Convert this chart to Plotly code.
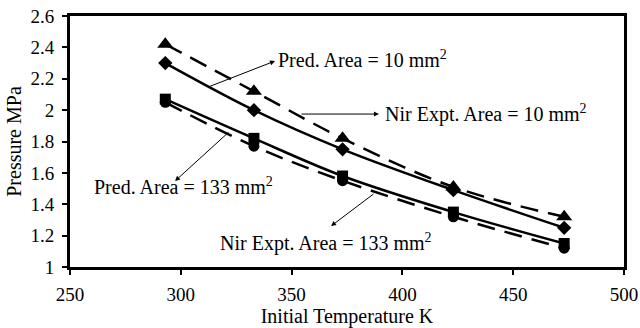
import plotly.graph_objects as go

temps = [293, 333, 373, 423, 473]
nir_10 = [2.42, 2.12, 1.82, 1.51, 1.32]
pred_10 = [2.30, 2.00, 1.75, 1.49, 1.25]
pred_133 = [2.07, 1.82, 1.58, 1.35, 1.15]
nir_133 = [2.05, 1.77, 1.55, 1.32, 1.12]

x_ticks = [250, 300, 350, 400, 450, 500]
y_ticks = [1, 1.2, 1.4, 1.6, 1.8, 2, 2.2, 2.4, 2.6]

FONT = "Liberation Serif"

fig = go.Figure()

def add(y, symbol, size, dash):
    fig.add_trace(go.Scatter(
        x=temps, y=y, mode="lines+markers",
        line=dict(color="black", width=2.5, dash=dash, shape="spline"),
        marker=dict(symbol=symbol, size=size, color="black"),
        showlegend=False, cliponaxis=False))

add(nir_10, "triangle-up", 14, "18px,10px")
add(pred_10, "diamond", 11, "solid")
add(pred_133, "square", 11, "solid")
add(nir_133, "circle", 11, "18px,10px")

arrows = [
    # (head x, head y, tail x, tail y)
    (342.5, 2.313, 312.3, 2.147),
    (389.4, 1.975, 353.8, 1.975),
    (297.4, 1.548, 322.2, 1.867),
    (367.8, 1.261, 387.6, 1.472),
]
for hx, hy, tx, ty in arrows:
    fig.add_annotation(x=hx, y=hy, ax=tx, ay=ty, xref="x", yref="y",
                       axref="x", ayref="y", text="", showarrow=True,
                       arrowhead=2, arrowsize=1, arrowwidth=1, arrowcolor="black")

labels = [
    ("Pred. Area = 10 mm<sup>2</sup>", 343.0, 2.326),
    ("Nir Expt. Area = 10 mm<sup>2</sup>", 391.2, 1.98),
    ("Pred. Area = 133 mm<sup>2</sup>", 260.0, 1.516),
    ("Nir Expt. Area = 133 mm<sup>2</sup>", 316.8, 1.159),
]
for t, x, y in labels:
    fig.add_annotation(x=x, y=y, xref="x", yref="y", text=t, showarrow=False,
                       xanchor="left", yanchor="middle",
                       font=dict(family=FONT, size=20, color="black"))

fig.update_xaxes(range=[250, 500], tickvals=x_ticks, ticks="outside", ticklen=5,
                 tickwidth=1.5, tickcolor="black", showline=True, linecolor="black",
                 linewidth=3, mirror=True, showgrid=False, zeroline=False,
                 automargin=False, ticklabelstandoff=3,
                 title=dict(text="Initial Temperature K", standoff=3,
                            font=dict(family=FONT, size=20, color="black")),
                 tickfont=dict(family=FONT, size=19, color="black"))
fig.update_yaxes(range=[1, 2.6], tickvals=y_ticks, ticks="outside", ticklen=5,
                 tickwidth=1.5, tickcolor="black", showline=True, linecolor="black",
                 linewidth=3, mirror=True, showgrid=False, zeroline=False,
                 automargin=False, ticklabelstandoff=4,
                 title=dict(text="Pressure MPa", standoff=4,
                            font=dict(family=FONT, size=20, color="black")),
                 tickfont=dict(family=FONT, size=19, color="black"))

fig.update_layout(width=640, height=328, margin=dict(l=70, r=16, t=16, b=61),
                  paper_bgcolor="white", plot_bgcolor="white")

fig.write_html("out.html", config={"displayModeBar": False},
               post_script="document.body.style.margin='0';document.body.style.overflow='hidden';")
